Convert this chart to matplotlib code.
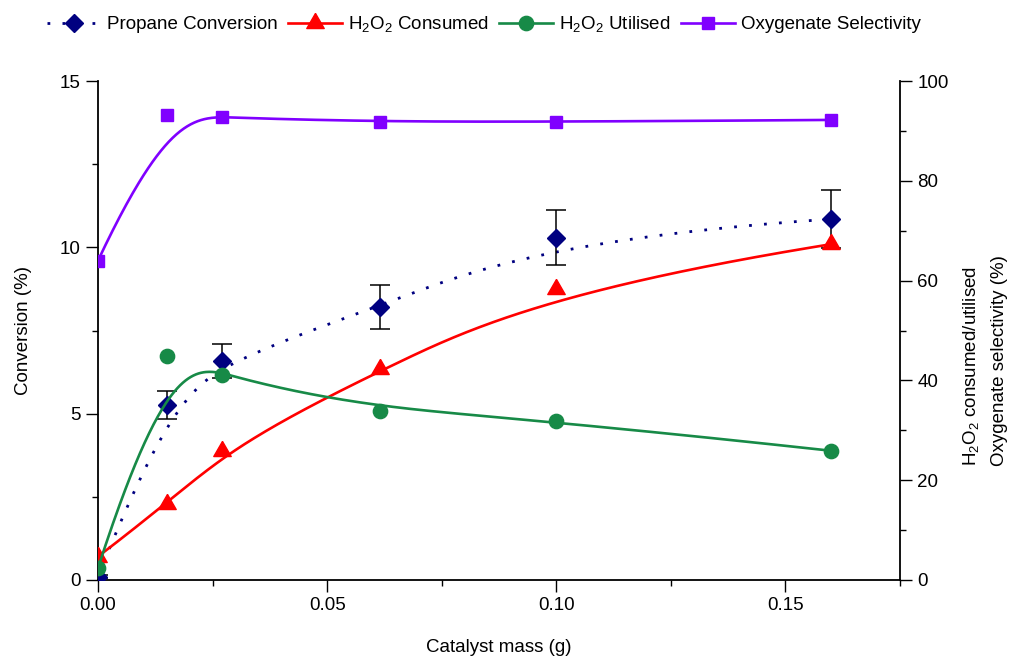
import numpy as np
import matplotlib
matplotlib.use("Agg")
import matplotlib.pyplot as plt
from matplotlib.ticker import MultipleLocator, FormatStrFormatter

plt.rcParams["font.family"] = ["Liberation Sans", "DejaVu Sans"]
plt.rcParams["mathtext.fontset"] = "custom"
plt.rcParams["mathtext.rm"] = "Liberation Sans"
plt.rcParams["mathtext.default"] = "regular"
plt.rcParams["font.size"] = 13.5

# Catalyst mass (g)
catalyst_mass = [0.0, 0.015, 0.027, 0.0615, 0.100, 0.160]
# Propane conversion (%) with error
propane_conversion = [0.1, 5.26, 6.58, 8.21, 10.29, 10.85]
propane_error = [0.05, 0.42, 0.52, 0.67, 0.82, 0.87]
# H2O2 consumed / utilised (%)
h2o2_consumed = [4.7, 15.2, 25.8, 42.2, 58.4, 67.3]
h2o2_utilised = [2.4, 44.9, 41.0, 33.9, 31.9, 25.9]
# Oxygenate selectivity (%)
oxygenate_selectivity = [64.0, 93.2, 92.7, 91.8, 91.8, 92.2]

NAVY = "#000080"
RED = "#FF0000"
GREEN = "#178A47"
PURPLE = "#8000FF"


def bspline(xs, ys, degree=3, num=400):
    """Clamped uniform B-spline using the data points as control points."""
    pts = np.column_stack([xs, ys]).astype(float)
    n = len(pts)
    knots = np.concatenate([np.zeros(degree),
                            np.linspace(0, 1, n - degree + 1),
                            np.ones(degree)])
    t = np.linspace(0, 1, num)
    t[-1] -= 1e-12
    B = np.zeros((num, len(knots) - 1))
    for j in range(len(knots) - 1):
        B[:, j] = (knots[j] <= t) & (t < knots[j + 1])
    for d in range(1, degree + 1):
        Bn = np.zeros((num, len(knots) - 1 - d))
        for j in range(len(knots) - 1 - d):
            term = np.zeros(num)
            den1 = knots[j + d] - knots[j]
            if den1 > 0:
                term += (t - knots[j]) / den1 * B[:, j]
            den2 = knots[j + d + 1] - knots[j + 1]
            if den2 > 0:
                term += (knots[j + d + 1] - t) / den2 * B[:, j + 1]
            Bn[:, j] = term
        B = Bn
    curve = B @ pts
    return curve[:, 0], curve[:, 1]


# equilateral triangle marker centred on its centroid
tri = [(0, 1), (-0.866, -0.5), (0.866, -0.5), (0, 1)]

W, H = 1014, 657
fig = plt.figure(figsize=(W / 100, H / 100), dpi=100)
ax = fig.add_axes([98 / W, 77 / H, 802 / W, 499 / H])
ax2 = ax.twinx()

lw = 1.9
dotted = (0, (1, 4.4))
# Propane conversion on the left axis
cx, cy = bspline(catalyst_mass, propane_conversion)
ax.plot(cx, cy, linestyle=dotted, color=NAVY, lw=2.0)
ax.errorbar(catalyst_mass, propane_conversion, yerr=propane_error,
            fmt="none", ecolor="black", elinewidth=1.1, capsize=7, capthick=1.1,
            zorder=3)
ax.plot(catalyst_mass, propane_conversion, linestyle="none", marker="D",
        ms=9, color=NAVY, zorder=4)

# H2O2 and selectivity on the right axis
for yvals, col, mk, ms in [(h2o2_consumed, RED, tri, 14.5),
                           (h2o2_utilised, GREEN, "o", 10.3),
                           (oxygenate_selectivity, PURPLE, "s", 8.9)]:
    sx, sy = bspline(catalyst_mass, yvals)
    ax2.plot(sx, sy, color=col, lw=lw)
    ax2.plot(catalyst_mass, yvals, linestyle="none", marker=mk, ms=ms,
             color=col, mec=col)

ax.set_xlim(0, 0.175)
ax.set_ylim(0, 15)
ax2.set_ylim(0, 100)

ax.xaxis.set_major_locator(MultipleLocator(0.05))
ax.xaxis.set_minor_locator(MultipleLocator(0.025))
ax.xaxis.set_major_formatter(FormatStrFormatter("%.2f"))
ax.yaxis.set_major_locator(MultipleLocator(5))
ax.yaxis.set_minor_locator(MultipleLocator(2.5))
ax2.yaxis.set_major_locator(MultipleLocator(20))
ax2.yaxis.set_minor_locator(MultipleLocator(10))

for a in (ax, ax2):
    a.spines["top"].set_visible(False)
    for s in a.spines.values():
        s.set_linewidth(1.3)
    a.tick_params(which="major", direction="out", length=8.5, width=1.0,
                  labelsize=13.5, pad=4)
    a.tick_params(which="minor", direction="out", length=4.5, width=1.0)
ax.spines["right"].set_visible(False)
ax2.spines["left"].set_visible(False)
ax2.spines["bottom"].set_visible(False)

ax.set_xlabel("Catalyst mass (g)", fontsize=13.5, labelpad=18)
ax.set_ylabel("Conversion (%)", fontsize=13.5, labelpad=20)

# two-line right-hand axis title, each line starting at the same height
fig.text(971 / W, 1 - 466 / H, "H$_2$O$_2$ consumed/utilised", rotation=90,
         rotation_mode="anchor", ha="left", va="center", fontsize=13.5)
fig.text(1000 / W, 1 - 466 / H, "Oxygenate selectivity (%)", rotation=90,
         rotation_mode="anchor", ha="left", va="center", fontsize=13.5)

# legend handles
h1, = ax.plot([], [], linestyle=dotted, color=NAVY, lw=2.0, marker="D", ms=9)
h2, = ax.plot([], [], color=RED, lw=lw, marker=tri, ms=14.5)
h3, = ax.plot([], [], color=GREEN, lw=lw, marker="o", ms=10.3)
h4, = ax.plot([], [], color=PURPLE, lw=lw, marker="s", ms=8.9)
fig.legend([h1, h2, h3, h4],
           ["Propane Conversion", "H$_2$O$_2$ Consumed", "H$_2$O$_2$ Utilised",
            "Oxygenate Selectivity"],
           loc="center", bbox_to_anchor=(0.477, 0.963), ncol=4, frameon=False,
           fontsize=13.5, handlelength=2.9, handletextpad=0.3, columnspacing=0.55,
           borderaxespad=0)

fig.savefig("out.png", dpi=100)
